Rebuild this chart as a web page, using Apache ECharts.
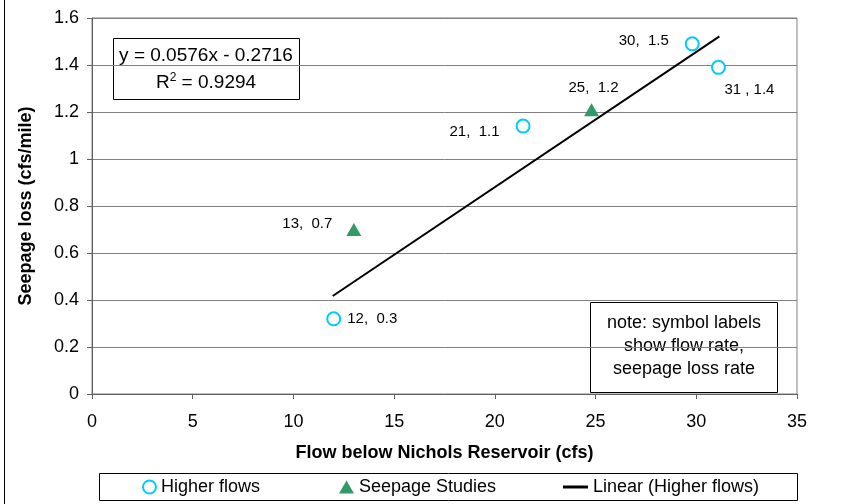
<!DOCTYPE html>
<html>
<head>
<meta charset="utf-8">
<script src="https://cdn.jsdelivr.net/npm/echarts@6/dist/echarts.min.js"></script>
<style>
  html, body { margin: 0; padding: 0; background: #fff; }
  #chart { width: 864px; height: 504px; }
</style>
</head>
<body>
<div id="chart"></div>
<script>
// values
var higherFlowsX = [12.0, 21.4, 29.8, 31.1]
var higherFlowsY = [0.32, 1.14, 1.49, 1.39]
var higherFlowsLabels = ['12,  0.3', '21,  1.1', '30,  1.5', '31 , 1.4']

var seepageX = [13.0, 24.8]
var seepageY = [0.70, 1.21]
var seepageLabels = ['13,  0.7', '25,  1.2']

// trend line end points (Linear fit of Higher flows)
var trendX = [11.95, 31.15]
var trendY = [0.417, 1.522]

var xTicks = { min: 0, max: 35, interval: 5 }
var yTicks = { min: 0, max: 1.6, interval: 0.2 }

var FONT = '"Liberation Sans", Arial, sans-serif'

// where each label sits next to its symbol
var higherLabelPos = [
  { position: 'right', distance: 6, offset: [0, 0] },
  { position: 'left', distance: 16, offset: [0, 6] },
  { position: 'left', distance: 16, offset: [0, -3] },
  { position: 'bottom', distance: 8, offset: [31, 0] }
]
var seepageLabelPos = [
  { position: 'left', distance: 14, offset: [0, -6] },
  { position: 'top', distance: 8, offset: [2, 0] }
]

function buildPoints(xs, ys, labels, pos) {
  return xs.map(function (x, i) {
    return {
      value: [x, ys[i]],
      label: Object.assign({ show: true, formatter: labels[i] }, pos[i])
    }
  })
}

var legendText = { fontSize: 18, color: '#000', fontFamily: FONT }

var chart = echarts.init(document.getElementById('chart'))
var option = {
  animation: false,
  backgroundColor: '#fff',
  textStyle: { fontFamily: FONT },
  grid: {
    left: 92,
    right: 67,
    top: 18,
    bottom: 110,
    show: true,
    borderColor: '#808080',
    borderWidth: 1
  },
  xAxis: {
    type: 'value',
    min: xTicks.min,
    max: xTicks.max,
    interval: xTicks.interval,
    name: 'Flow below Nichols Reservoir (cfs)',
    nameLocation: 'middle',
    nameGap: 50,
    nameTextStyle: { fontSize: 18, fontWeight: 'bold', color: '#000', fontFamily: FONT },
    axisLine: { show: true, onZero: false, lineStyle: { color: '#606060', width: 1 } },
    axisTick: { show: true, length: 5, lineStyle: { color: '#606060' } },
    axisLabel: { fontSize: 18, color: '#000', margin: 19, fontFamily: FONT },
    splitLine: { show: false }
  },
  yAxis: {
    type: 'value',
    min: yTicks.min,
    max: yTicks.max,
    interval: yTicks.interval,
    name: 'Seepage loss (cfs/mile)',
    nameLocation: 'middle',
    nameGap: 57,
    nameTextStyle: { fontSize: 18, fontWeight: 'bold', color: '#000', fontFamily: FONT },
    axisLine: { show: true, onZero: false, lineStyle: { color: '#606060', width: 1 } },
    axisTick: { show: true, length: 5, lineStyle: { color: '#606060' } },
    axisLabel: { fontSize: 18, color: '#000', margin: 13, fontFamily: FONT },
    splitLine: { show: true, lineStyle: { color: '#808080', width: 1 } }
  },
  legend: [
    {
      left: 142, top: 478, padding: 0, itemWidth: 13, itemHeight: 13,
      textStyle: legendText,
      data: [{ name: 'Higher flows', icon: 'emptyCircle' }]
    },
    {
      left: 339, top: 478, padding: 0, itemWidth: 15, itemHeight: 13,
      textStyle: legendText,
      data: [{ name: 'Seepage Studies', icon: 'triangle' }]
    },
    {
      left: 563, top: 478, padding: 0, itemWidth: 25, itemHeight: 3,
      textStyle: legendText,
      data: [{ name: 'Linear (Higher flows)', icon: 'rect' }]
    }
  ],
  series: [
    {
      name: 'Higher flows',
      type: 'scatter',
      symbol: 'emptyCircle',
      symbolSize: 13,
      itemStyle: { color: '#00CCFF', borderColor: '#00CCFF', borderWidth: 1.6, opacity: 1 },
      label: { fontSize: 15, color: '#000', fontFamily: FONT },
      data: buildPoints(higherFlowsX, higherFlowsY, higherFlowsLabels, higherLabelPos),
      z: 3
    },
    {
      name: 'Seepage Studies',
      type: 'scatter',
      symbol: 'triangle',
      symbolSize: [15, 13],
      itemStyle: { color: '#339966', opacity: 1 },
      label: { fontSize: 15, color: '#000', fontFamily: FONT },
      data: buildPoints(seepageX, seepageY, seepageLabels, seepageLabelPos),
      z: 3
    },
    {
      name: 'Linear (Higher flows)',
      type: 'line',
      symbol: 'none',
      lineStyle: { color: '#000', width: 2 },
      itemStyle: { color: '#000' },
      data: trendX.map(function (x, i) { return [x, trendY[i]] }),
      z: 2
    }
  ],
  graphic: [
    // outer left frame line
    { type: 'line', shape: { x1: 4.5, y1: 0, x2: 4.5, y2: 504 }, style: { stroke: '#000', lineWidth: 1 } },
    // legend frame
    { type: 'rect', shape: { x: 99.5, y: 473.5, width: 698, height: 27 }, style: { fill: 'none', stroke: '#000', lineWidth: 1 } },
    // equation box
    {
      type: 'group', left: 113, top: 38,
      children: [
        { type: 'rect', shape: { x: 0.5, y: 0.5, width: 186, height: 61 }, style: { fill: '#fff', stroke: '#000', lineWidth: 1 } },
        { type: 'text', style: { x: 93, y: 18, text: 'y = 0.0576x - 0.2716', font: '19px ' + FONT, fill: '#000', align: 'center', verticalAlign: 'middle' } },
        {
          type: 'text',
          style: {
            x: 93, y: 45, align: 'center', verticalAlign: 'middle',
            text: '{b|R}{s|2}{b| = 0.9294}',
            rich: {
              b: { fontSize: 19, fontFamily: FONT, color: '#000' },
              s: { fontSize: 12, fontFamily: FONT, color: '#000', verticalAlign: 'top', padding: [0, 0, 10, 0] }
            }
          }
        }
      ]
    },
    // note box
    {
      type: 'group', left: 590, top: 302,
      children: [
        { type: 'rect', shape: { x: 0.5, y: 0.5, width: 187, height: 90 }, style: { fill: '#fff', stroke: '#000', lineWidth: 1 } },
        {
          type: 'text',
          style: {
            x: 94, y: 44, align: 'center', verticalAlign: 'middle',
            text: 'note: symbol labels\nshow flow rate,\nseepage loss rate',
            font: '18px ' + FONT, lineHeight: 23, fill: '#000'
          }
        }
      ]
    }
  ]
}
chart.setOption(option)
</script>
</body>
</html>
